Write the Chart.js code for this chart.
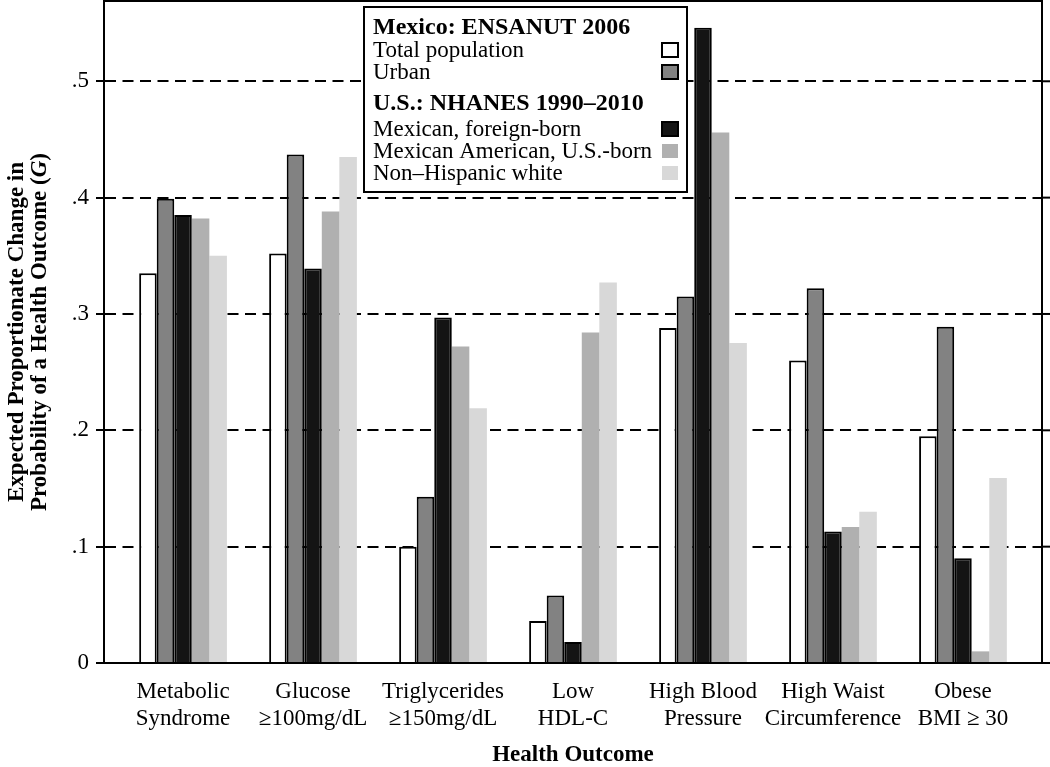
<!DOCTYPE html>
<html><head><meta charset="utf-8">
<script src="https://cdn.jsdelivr.net/npm/chart.js@4/dist/chart.umd.min.js"></script>
<style>html,body{margin:0;padding:0;background:#fff}</style>
</head><body>
<canvas id="c" width="1050" height="767"></canvas>
<script>
const categories = [['Metabolic','Syndrome'],['Glucose','\u2265100mg/dL'],['Triglycerides','\u2265150mg/dL'],['Low','HDL-C'],['High Blood','Pressure'],['High Waist','Circumference'],['Obese','BMI \u2265 30']];
const legendHeaders = ['Mexico: ENSANUT 2006','U.S.: NHANES 1990\u20132010'];
const seriesNames = ['Total population','Urban','Mexican, foreign-born','Mexican American, U.S.-born','Non\u2013Hispanic white'];
const totalPopulation       = [0.335,0.352,0.100,0.036,0.288,0.260,0.195];
const urban                 = [0.399,0.437,0.143,0.058,0.315,0.322,0.289];
const mexicanForeignBorn    = [0.385,0.339,0.297,0.018,0.546,0.113,0.090];
const mexicanAmericanUSBorn = [0.382,0.388,0.272,0.284,0.456,0.117,0.010];
const nonHispanicWhite      = [0.350,0.435,0.219,0.327,0.275,0.130,0.159];
const yTickValues = [0,0.1,0.2,0.3,0.4,0.5];
const yTickLabels = ['0','.1','.2','.3','.4','.5'];
// second line is split so the symbol G can be set in italics
const yTitleLine1 = 'Expected Proportionate Change in';
const yTitleLine2 = ['Probability of a Health Outcome (', 'G', ')'];
const xTitle = 'Health Outcome';

const SERIF = '"Liberation Serif", "DejaVu Serif", serif';
const seriesValues = [totalPopulation, urban, mexicanForeignBorn, mexicanAmericanUSBorn, nonHispanicWhite];
const fills   = ['#ffffff','#828282','#141414','#b0b0b0','#d8d8d8'];
const borders = [2,2,2,0,0];

const datasets = seriesValues.map((vals, s) => ({
  label: seriesNames[s],
  data: vals.map((v, i) => ({x: i, y: v})),
  backgroundColor: fills[s],
  borderColor: '#000',
  borderWidth: borders[s],
  categoryPercentage: 0.675,
  barPercentage: 1.0
}));

const framePlugin = {
  id: 'frame',
  afterDatasetsDraw(chart) {
    const {ctx, chartArea: a, scales} = chart;
    ctx.save();
    ctx.strokeStyle = '#000';
    ctx.lineWidth = 2;
    ctx.strokeRect(a.left, a.top, a.right - a.left, a.bottom - a.top);
    yTickValues.forEach(v => {
      const y = scales.y.getPixelForValue(v);
      ctx.beginPath(); ctx.moveTo(a.right, y); ctx.lineTo(a.right + 8, y); ctx.stroke();
    });
    // boxed legend
    const L = 364, T = 7, R = 687, B = 192;
    ctx.fillStyle = '#fff';
    ctx.fillRect(L, T, R - L, B - T);
    ctx.strokeRect(L, T, R - L, B - T);
    const rows = [
      {h: 0, y: 34}, {s: 0, y: 57}, {s: 1, y: 79},
      {h: 1, y: 110}, {s: 2, y: 136}, {s: 3, y: 158}, {s: 4, y: 180}
    ];
    ctx.textBaseline = 'alphabetic';
    ctx.textAlign = 'left';
    rows.forEach(r => {
      ctx.fillStyle = '#000';
      if (r.h !== undefined) {
        ctx.font = 'bold 24px ' + SERIF;
        ctx.fillText(legendHeaders[r.h], L + 9, r.y);
      } else {
        ctx.font = '23px ' + SERIF;
        ctx.fillText(seriesNames[r.s], L + 9, r.y);
        const sx = 662, sy = r.y - 14, sw = 16, sh = 14;
        ctx.fillStyle = fills[r.s];
        ctx.fillRect(sx, sy, sw, sh);
        if (borders[r.s]) {
          ctx.lineWidth = 2;
          ctx.strokeRect(sx, sy, sw, sh);
        }
      }
    });
    // rotated y-axis title with italic G
    const cy = (a.top + a.bottom) / 2;
    const bold = 'bold 23px ' + SERIF, boldIt = 'italic bold 23px ' + SERIF;
    ctx.fillStyle = '#000';
    ctx.textBaseline = 'middle';
    ctx.translate(0, cy);
    ctx.rotate(-Math.PI / 2);
    ctx.font = bold;
    ctx.textAlign = 'center';
    ctx.fillText(yTitleLine1, 0, 17);
    const parts = yTitleLine2.map((t, i) => ({t, f: i === 1 ? boldIt : bold}));
    let total = 0;
    parts.forEach(p => { ctx.font = p.f; p.w = ctx.measureText(p.t).width; total += p.w; });
    let x = -total / 2;
    ctx.textAlign = 'left';
    parts.forEach(p => { ctx.font = p.f; ctx.fillText(p.t, x, 40); x += p.w; });
    ctx.restore();
  }
};

new Chart(document.getElementById('c'), {
  type: 'bar',
  data: { datasets },
  plugins: [framePlugin],
  options: {
    responsive: false,
    animation: false,
    devicePixelRatio: 1,
    layout: { padding: { top: 1, right: 8, left: 0, bottom: 0 } },
    plugins: { legend: { display: false }, tooltip: { enabled: false } },
    scales: {
      x: {
        type: 'linear',
        offset: false,
        min: -0.608,
        max: 6.608,
        afterBuildTicks: (scale) => { scale.ticks = categories.map((c, i) => ({value: i})); },
        afterFit: (scale) => { scale.height = 104; scale.paddingLeft = 0; scale.paddingRight = 0; },
        grid: { display: false, drawTicks: false, offset: false },
        border: { display: true, color: '#000', width: 2 },
        ticks: {
          autoSkip: false, maxRotation: 0, padding: 15, color: '#000',
          font: { family: SERIF, size: 23, lineHeight: 1.2 },
          callback: (v) => categories[Math.round(v)]
        },
        title: {
          display: true, text: xTitle, color: '#000',
          font: { family: SERIF, size: 23, weight: 'bold', lineHeight: 1.0 },
          padding: { top: 0, bottom: 0 }
        }
      },
      y: {
        min: 0,
        max: 0.569,
        afterBuildTicks: (scale) => { scale.ticks = yTickValues.map(v => ({value: v})); },
        afterFit: (scale) => { scale.width = 104; scale.paddingTop = 0; scale.paddingBottom = 0; },
        grid: { color: '#000', lineWidth: 2, drawTicks: true, tickLength: 8, tickColor: '#000', tickWidth: 2 },
        border: { display: true, color: '#000', width: 2, dash: [11, 6.5] },
        ticks: {
          padding: 7, color: '#000',
          font: { family: SERIF, size: 23 },
          callback: (v) => yTickLabels[yTickValues.findIndex(t => Math.abs(t - v) < 1e-9)]
        },
        title: { display: false }
      }
    }
  }
});
</script>
</body></html>
